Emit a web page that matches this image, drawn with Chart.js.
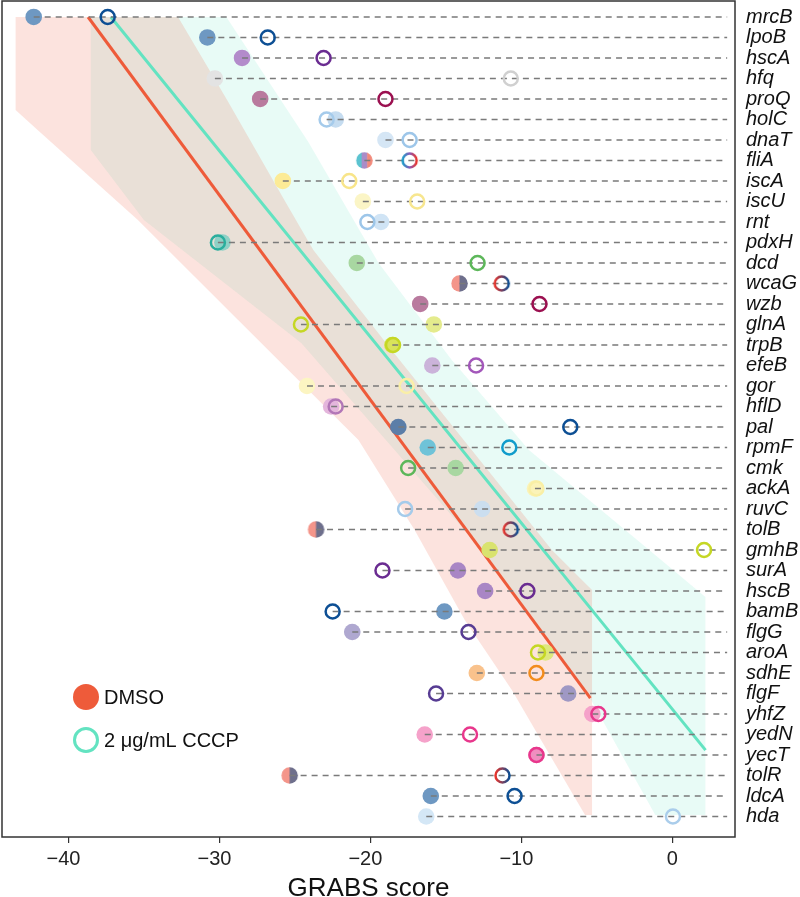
<!DOCTYPE html>
<html>
<head>
<meta charset="utf-8">
<script src="https://cdn.jsdelivr.net/npm/chart.js@4.4.1/dist/chart.umd.min.js"></script>
<style>
  html, body { margin: 0; padding: 0; background: #fff; }
</style>
</head>
<body>
<canvas id="chart" width="800" height="897"></canvas>
<script>
// genes, top to bottom (row index = rank)
const genes = ['mrcB', 'lpoB', 'hscA', 'hfq', 'proQ', 'holC', 'dnaT', 'fliA', 'iscA', 'iscU',
  'rnt', 'pdxH', 'dcd', 'wcaG', 'wzb', 'glnA', 'trpB', 'efeB', 'gor', 'hflD',
  'pal', 'rpmF', 'cmk', 'ackA', 'ruvC', 'tolB', 'gmhB', 'surA', 'hscB', 'bamB',
  'flgG', 'aroA', 'sdhE', 'flgF', 'yhfZ', 'yedN', 'yecT', 'tolR', 'ldcA', 'hda'];

// GRABS scores, DMSO (filled) and 2 ug/mL CCCP (open)
const dmsoScore = [-42.3, -30.8, -28.5, -30.3, -27.3, -22.3, -19.0, -20.4, -25.8, -20.5,
  -19.3, -29.8, -20.9, -14.1, -16.7, -15.8, -18.55, -15.9, -24.2, -22.6,
  -18.15, -16.2, -14.35, -9.1, -12.6, -23.6, -12.1, -14.2, -12.4, -15.1,
  -21.2, -8.4, -12.95, -6.9, -5.3, -16.4, -9.0, -25.35, -16.0, -16.3];
const cccpScore = [-37.4, -26.8, -23.1, -10.7, -19.0, -22.9, -17.4, -17.4, -21.4, -16.9,
  -20.2, -30.1, -12.9, -11.3, -8.8, -24.6, -18.5, -13.0, -17.6, -22.3,
  -6.76, -10.8, -17.5, -9.0, -17.7, -10.7, 2.1, -19.2, -9.6, -22.5,
  -13.5, -8.9, -9.0, -15.65, -4.9, -13.4, -9.0, -11.25, -10.45, 0.04];

// fitted lines [score, rank]
const dmsoFit = [[-38.7, 0], [-5.43, 33.23]];
const cccpFit = [[-37.19, 0], [2.2, 35.76]];

// confidence bands, outline [score, rank]
const dmsoBand = [[-43.5, 0], [-32.74, 0], [-29.49, 4.05], [-25.7, 8.93], [-23.78, 11.37],
  [-18.6, 16.24], [-13.29, 21.12], [-7.98, 26.0], [-5.32, 27.95], [-5.32, 38.93],
  [-5.78, 38.93], [-8.31, 35.76], [-10.63, 32.83], [-13.75, 29.41], [-17.07, 25.02],
  [-20.79, 20.63], [-26.77, 16.24], [-35.4, 9.9], [-42.04, 5.51], [-43.5, 4.54]];
const cccpBand = [[-38.52, 0], [-29.54, 0], [-24.11, 6.1], [-19.46, 12.0], [-14.61, 16.73],
  [-9.5, 21.12], [-1.53, 26.0], [2.19, 28.29], [2.19, 38.93], [-1.13, 38.93],
  [-5.45, 33.22], [-12.62, 26.0], [-24.58, 15.9], [-35.0, 9.9], [-38.52, 6.49]];

const xTicks = [-40, -30, -20, -10, 0];
const dashEnd = 3.63;

// colours per gene (arrays = split markers)
const fillColors = ['#6E98C2', '#6E98C2', '#B38BCB', '#E3E3E3', '#B97A9E', '#C5DCF0', '#D5E6F5',
  ['#5BC3D0', '#A98CC8', '#F2897A'], '#FCEB96', '#FBF5C6',
  '#D0E4F5', '#8ED1C6', '#A8D7A1', ['#F4958A', '#6E6F8C'], '#B97A9E', '#E4EB8D', '#D9E35B', '#CBB3DA', '#FCF5C2', '#E4B6DC',
  '#5B7EA8', '#6FC3D8', '#A8D7A1', '#FBF3B8', '#CBDEEF', ['#F4958A', '#6E6F8C'], '#D9E36E', '#A986C5', '#A986C5', '#6E98C2',
  '#AFA8D0', '#DEE87D', '#F9C28C', '#9F98C4', '#F5A2CA', '#F5A2CA', '#F08EC0', ['#F4958A', '#6E6F8C'], '#6E98C2', '#D4E7F6'];
const ringColors = ['#0D4F94', '#0D4F94', '#6A2C91', '#D0D0D0', '#9B1050', '#A5CBEB', '#9DC6E9',
  ['#1A9BC9', '#8A5CB8', '#E8342B'], '#F8E58A', '#F7E68F',
  '#9DC6E9', '#2AAE9D', '#5DB75A', ['#E8342B', '#0D4F94'], '#9B1050', '#C5D724', '#C5D724', '#A357BA', '#FAEFA8', '#B276B7',
  '#0D4F94', '#109CCB', '#5DB75A', '#F9EFA5', '#A5CBEB', ['#E8342B', '#0D4F94'], '#C5D724', '#6A2C91', '#6A2C91', '#0D4F94',
  '#573C93', '#C5D724', '#F28C1C', '#573C93', '#E8378C', '#E8378C', '#E8378C', ['#E8342B', '#0D4F94'], '#0D4F94', '#AACDEB'];

const dmsoColor = '#EE5B3A';
const cccpColor = '#63E3C1';
const font = '"Liberation Sans", Arial, sans-serif';

const DOT_R = 8.3;
const RING_R = 7;
const RING_W = 2.5;

// split-colour filled dot
function splitDot(cols) {
  const s = Math.ceil(DOT_R * 2) + 2;
  const c = document.createElement('canvas');
  c.width = s; c.height = s;
  const g = c.getContext('2d');
  g.beginPath();
  g.arc(s / 2, s / 2, DOT_R, 0, Math.PI * 2);
  g.clip();
  const w = (DOT_R * 2) / cols.length;
  cols.forEach((col, k) => {
    g.fillStyle = col;
    g.fillRect(s / 2 - DOT_R + k * w, 0, w + 0.5, s);
  });
  return c;
}

// split-colour ring
function splitRing(cols) {
  const s = Math.ceil((RING_R + RING_W) * 2) + 2;
  const c = document.createElement('canvas');
  c.width = s; c.height = s;
  const g = c.getContext('2d');
  const grad = g.createLinearGradient(s / 2 - RING_R, 0, s / 2 + RING_R, 0);
  cols.forEach((col, k) => grad.addColorStop(k / (cols.length - 1), col));
  g.strokeStyle = grad;
  g.lineWidth = RING_W;
  g.beginPath();
  g.arc(s / 2, s / 2, RING_R, 0, Math.PI * 2);
  g.stroke();
  return c;
}

const toPts = (arr) => arr.map(([x, y]) => ({ x, y }));
const closed = (arr) => toPts(arr.concat([arr[0]]));

const datasets = [];

datasets.push({
  type: 'line', data: closed(cccpBand), fill: 'shape', showLine: true,
  backgroundColor: 'rgba(99, 227, 193, 0.15)', borderWidth: 0, pointRadius: 0, order: 20,
});
datasets.push({
  type: 'line', data: closed(dmsoBand), fill: 'shape', showLine: true,
  backgroundColor: 'rgba(238, 91, 58, 0.17)', borderWidth: 0, pointRadius: 0, order: 19,
});
datasets.push({
  type: 'line', data: toPts(dmsoFit), borderColor: dmsoColor, borderWidth: 3,
  pointRadius: 0, fill: false, order: 18,
});
datasets.push({
  type: 'line', data: toPts(cccpFit), borderColor: cccpColor, borderWidth: 3,
  pointRadius: 0, fill: false, order: 17,
});

// filled DMSO dots
datasets.push({
  type: 'scatter',
  data: dmsoScore.map((v, i) => ({ x: v, y: i })),
  pointRadius: DOT_R,
  pointStyle: fillColors.map((c) => (Array.isArray(c) ? splitDot(c) : 'circle')),
  pointBackgroundColor: fillColors.map((c) => (Array.isArray(c) ? c[0] : c)),
  pointBorderWidth: 0,
  order: 5,
});

// dashed guides, from leftmost marker to the right edge
genes.forEach((g, i) => {
  datasets.push({
    type: 'line',
    data: [{ x: Math.min(dmsoScore[i], cccpScore[i]), y: i }, { x: dashEnd, y: i }],
    borderColor: '#7a7a7a', borderWidth: 1.3, borderDash: [6, 5],
    pointRadius: 0, fill: false, order: 3,
  });
});

// open CCCP rings
datasets.push({
  type: 'scatter',
  data: cccpScore.map((v, i) => ({ x: v, y: i })),
  pointRadius: RING_R,
  pointStyle: ringColors.map((c) => (Array.isArray(c) ? splitRing(c) : 'circle')),
  pointBackgroundColor: 'rgba(0,0,0,0)',
  pointBorderColor: ringColors.map((c) => (Array.isArray(c) ? c[0] : c)),
  pointBorderWidth: RING_W,
  order: 1,
});

const frameAndLegend = {
  id: 'frameAndLegend',
  afterDatasetsDraw(chart) {
    const { ctx, chartArea: a } = chart;
    ctx.save();
    ctx.strokeStyle = '#333';
    ctx.lineWidth = 1.5;
    ctx.strokeRect(a.left, a.top, a.right - a.left, a.bottom - a.top);

    const lx = a.left + 84;
    const ly = a.top + 696;
    ctx.fillStyle = dmsoColor;
    ctx.beginPath();
    ctx.arc(lx, ly, 13, 0, Math.PI * 2);
    ctx.fill();
    ctx.strokeStyle = cccpColor;
    ctx.lineWidth = 3;
    ctx.beginPath();
    ctx.arc(lx, ly + 43, 11.5, 0, Math.PI * 2);
    ctx.stroke();
    ctx.fillStyle = '#111';
    ctx.font = '20px ' + font;
    ctx.textAlign = 'left';
    ctx.textBaseline = 'middle';
    ctx.fillText('DMSO', lx + 18, ly + 1);
    ctx.fillText('2 \u03BCg/mL CCCP', lx + 18, ly + 44);
    ctx.restore();
  },
};

new Chart(document.getElementById('chart'), {
  type: 'scatter',
  data: { datasets },
  options: {
    responsive: false,
    animation: false,
    events: [],
    layout: { autoPadding: false, padding: { left: 2, top: 1, right: 0, bottom: 0 } },
    plugins: { legend: { display: false }, tooltip: { enabled: false } },
    scales: {
      x: {
        type: 'linear',
        min: -44.4,
        max: 4.15,
        afterBuildTicks: (s) => { s.ticks = xTicks.map((v) => ({ value: v })); },
        afterFit: (s) => {
          s.height = 60;
          s.paddingLeft = 0;
          s.paddingRight = 0;
        },
        grid: { drawOnChartArea: false, drawTicks: true, tickLength: 6, color: '#333', lineWidth: 1.2 },
        border: { display: false },
        ticks: {
          font: { size: 20, family: font },
          color: '#222',
          padding: 4,
          // R-style minus: negative labels sit a little left of their tick
          callback: (v) => (v < 0 ? '\u2212' + Math.abs(v) + '\u2002' : String(v)),
        },
        title: {
          display: true,
          text: 'GRABS score',
          font: { size: 26, family: font, lineHeight: 1 },
          color: '#111',
          padding: { top: 0, bottom: -5 },
        },
      },
      y: {
        type: 'linear',
        position: 'right',
        reverse: true,
        min: -0.78,
        max: 40,
        afterBuildTicks: (s) => { s.ticks = genes.map((g, i) => ({ value: i })); },
        afterFit: (s) => {
          s.width = 65;
          s.paddingTop = 0;
          s.paddingBottom = 0;
        },
        grid: { display: false, drawTicks: false },
        border: { display: false },
        ticks: {
          font: { size: 20, style: 'italic', family: font },
          color: '#111',
          padding: 11,
          autoSkip: false,
          callback: (v) => genes[v],
        },
      },
    },
  },
  plugins: [frameAndLegend],
});
</script>
</body>
</html>
